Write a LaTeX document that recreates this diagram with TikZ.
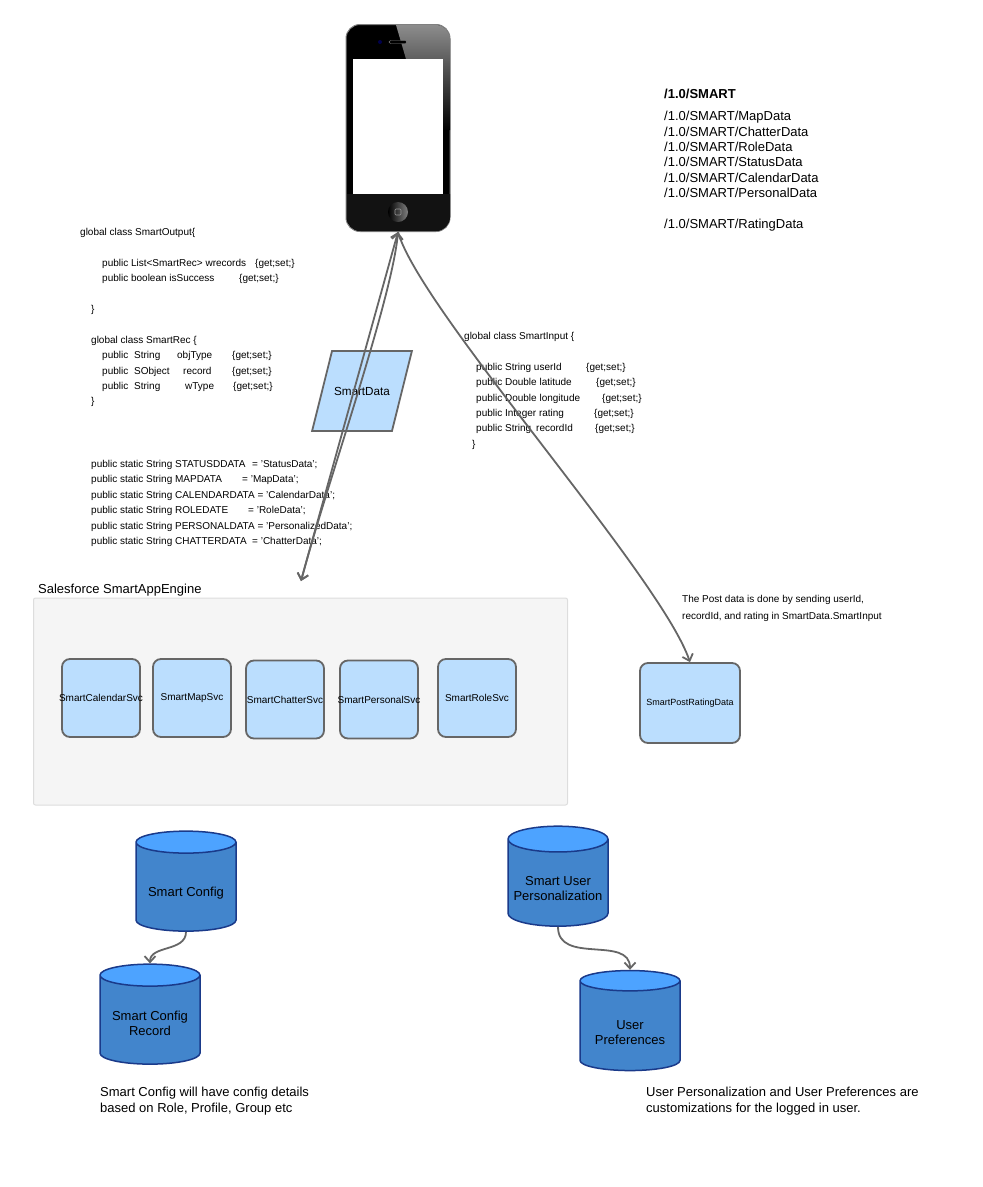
\documentclass[tikz,border=0pt]{standalone}
\usepackage{fontspec}
\setmainfont{Liberation Sans}
\usetikzlibrary{shapes.geometric,arrows.meta,positioning}
\definecolor{edgegray}{RGB}{102,102,102}
\definecolor{svcblue}{RGB}{187,222,254}
\definecolor{enginefill}{RGB}{245,245,245}
\definecolor{engineline}{RGB}{221,221,221}
\definecolor{dbbody}{RGB}{66,133,204}
\definecolor{dbtop}{RGB}{77,163,255}
\definecolor{dbline}{RGB}{26,58,138}
\newcommand{\colbox}[2]{\makebox[#1][l]{#2}}
\newcommand{\dbstrut}[1]{\rule{0pt}{#1}}
\begin{document}
\begin{tikzpicture}[x=1pt,y=-1pt,
  arr/.style={{Straight Barb[length=6pt,width=11pt]}-{Straight Barb[length=6pt,width=11pt]},draw=edgegray,line width=1.8pt},
  toarr/.style={-{Straight Barb[length=6pt,width=11pt]},draw=edgegray,line width=1.8pt},
  svc/.style={draw=edgegray,fill=svcblue,rounded corners=8pt,line width=1.8pt,minimum width=78pt,minimum height=78pt,inner ysep=0pt,inner xsep=-10pt,font=\fontsize{10}{12}\selectfont},
  db/.style={cylinder,shape border rotate=90,shape aspect=0.29,cylinder uses custom fill,cylinder body fill=dbbody,cylinder end fill=dbtop,draw=dbline,line width=1.5pt,minimum width=100pt,minimum height=100pt,inner sep=0pt,align=center,font=\fontsize{13}{15}\selectfont},
  code/.style={anchor=north west,inner sep=0pt,align=left,font=\fontsize{10}{15.4}\selectfont},
  note/.style={anchor=north west,inner sep=0pt,align=left,font=\fontsize{13}{16}\selectfont}]
\useasboundingbox (0,0) rectangle (983,1187);
% phone
\node[draw=gray,fill=black,rounded corners=14pt,line width=1pt,minimum width=104pt,minimum height=207pt,inner sep=0pt] (phone) at (398,128) {};
\shade[top color=gray!90,bottom color=black] (396,25) [rounded corners=14pt] -- (450,25) [sharp corners] -- (450,130) -- (443,130) -- (443,59) -- (406,59) -- cycle;
\fill[black!93] (347,194) -- (450,194) [rounded corners=14pt] -- (450,231) -- (347,231) [sharp corners] -- cycle;
\node[fill=white,minimum width=90pt,minimum height=135pt,inner sep=0pt] (screen) at (398,126.5) {};
\node[draw=gray,fill=black,rounded corners=1.5pt,minimum width=18pt,minimum height=3pt,inner sep=0pt] (speaker) at (398,42) {};
\node[circle,fill=black!70!blue,minimum size=4pt,inner sep=0pt] (camera) at (380,42) {};
\node[circle,left color=black,right color=gray,minimum size=20pt,inner sep=0pt] (homebtn) at (398,212) {};
\node[draw=gray!80,rounded corners=1pt,minimum size=6pt,inner sep=0pt,line width=.6pt] (homekey) at (398,212) {};
% urls
\node[anchor=north west,inner sep=0pt,font=\fontsize{13}{15}\bfseries\selectfont] (root) at (664,89) {/1.0/SMART};
\node[anchor=north west,inner sep=0pt,align=left,font=\fontsize{13}{15.4}\selectfont] (urls) at (664,111) {/1.0/SMART/MapData\\/1.0/SMART/ChatterData\\/1.0/SMART/RoleData\\/1.0/SMART/StatusData\\/1.0/SMART/CalendarData\\/1.0/SMART/PersonalData\\[15.4pt]/1.0/SMART/RatingData};
% class text
\node[code] (output) at (80,228) {global class SmartOutput\{\\[15.4pt]
\hspace*{22pt}\colbox{153pt}{public List<SmartRec> wrecords}\{get;set;\}\\
\hspace*{22pt}\colbox{137pt}{public boolean isSuccess}\{get;set;\}\\[15.4pt]
\hspace*{11pt}\}\\[15.4pt]
\hspace*{11pt}global class SmartRec \{\\
\hspace*{22pt}\colbox{32pt}{public}\colbox{43pt}{String}\colbox{55pt}{objType}\{get;set;\}\\
\hspace*{22pt}\colbox{32pt}{public}\colbox{49pt}{SObject}\colbox{49pt}{record}\{get;set;\}\\
\hspace*{22pt}\colbox{32pt}{public}\colbox{51pt}{String}\colbox{48pt}{wType}\{get;set;\}\\
\hspace*{11pt}\}};
\node[code] (consts) at (91,460) {\colbox{161pt}{public static String STATUSDDATA}= 'StatusData';\\
\colbox{151pt}{public static String MAPDATA}= 'MapData';\\
public static String CALENDARDATA = 'CalendarData';\\
\colbox{157pt}{public static String ROLEDATE}= 'RoleData';\\
public static String PERSONALDATA = 'PersonalizedData';\\
\colbox{161pt}{public static String CHATTERDATA}= 'ChatterData';};
\node[code] (input) at (464,332) {global class SmartInput \{\\[15.4pt]
\hspace*{12pt}\colbox{110pt}{public String userId}\{get;set;\}\\
\hspace*{12pt}\colbox{120pt}{public Double latitude}\{get;set;\}\\
\hspace*{12pt}\colbox{126pt}{public Double longitude}\{get;set;\}\\
\hspace*{12pt}\colbox{118pt}{public Integer rating}\{get;set;\}\\
\hspace*{12pt}\colbox{60pt}{public String}\colbox{59pt}{recordId}\{get;set;\}\\
\hspace*{8pt}\}};
\node[anchor=north west,inner sep=0pt,align=left,font=\fontsize{10}{17}\selectfont] (postnote) at (682,595) {The Post data is done by sending userId,\\recordId, and rating in SmartData.SmartInput};
% smart data
\node[draw=edgegray,fill=svcblue,trapezium,trapezium left angle=76,trapezium right angle=104,text height=8pt,text depth=0pt,inner xsep=2pt,inner ysep=36pt,line width=1.8pt,font=\fontsize{11.7}{15}\selectfont] (smartdata) at (362,391) {SmartData};
% engine
\node[anchor=south west,inner sep=0pt,font=\fontsize{13}{15}\selectfont] (enginelabel) at (38,596) {Salesforce SmartAppEngine};
\node[draw=engineline,fill=enginefill,rounded corners=2pt,minimum width=534pt,minimum height=207pt,inner sep=0pt,line width=1pt] (engine) at (300.5,701.5) {};
\node[svc] (calendar) at (101,698) {SmartCalendarSvc};
\node[svc] (mapsvc) at (192,698) {SmartMapSvc};
\node[svc] (chatter) at (285,699.5) {SmartChatterSvc};
\node[svc] (personal) at (379,699.5) {SmartPersonalSvc};
\node[svc] (rolesvc) at (477,698) {SmartRoleSvc};
\node[svc,minimum width=100pt,minimum height=80pt,font=\fontsize{9}{11}\selectfont] (postrating) at (690,703) {SmartPostRatingData};
\coordinate (enginetop) at (301,581);
% stores
\node[db] (config) at (186,887) {\dbstrut{21.4pt}Smart Config};
\node[db] (configrec) at (150,1020) {\dbstrut{16.4pt}Smart Config\\Record};
\node[db] (userpers) at (558,883) {\dbstrut{20.4pt}Smart User\\Personalization};
\node[db] (userprefs) at (630,1026) {\dbstrut{21.4pt}User\\Preferences};
% notes
\node[note] (confignote) at (100,1087) {Smart Config will have config details\\based on Role, Profile, Group etc};
\node[note] (prefsnote) at (646,1087) {User Personalization and User Preferences are\\customizations for the logged in user.};
% edges
\draw[arr] (phone.south) -- (enginetop);
\draw[arr] (phone.south) .. controls (392,300) and (325,490) .. (enginetop);
\draw[toarr] (phone.south) .. controls (420,310) and (660,575) .. (postrating.north);
\draw[toarr] (config.south) .. controls (186,952) and (150,945) .. (configrec.north);
\draw[toarr] (userpers.south) .. controls (558,965) and (630,935) .. (userprefs.north);
\end{tikzpicture}
\end{document}
